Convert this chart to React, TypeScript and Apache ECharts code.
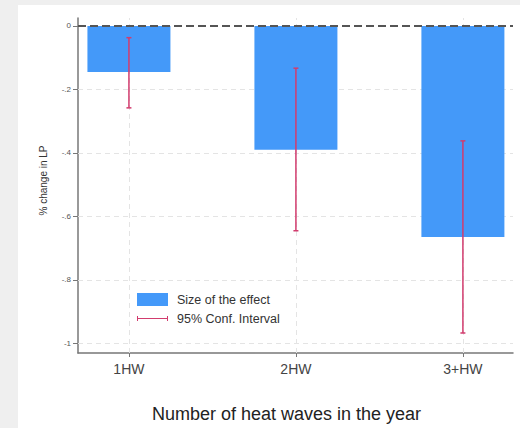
import React, { useEffect, useRef } from "react";
import * as echarts from "echarts";

const categories = ["1HW", "2HW", "3+HW"];
const positions = [1, 2, 3];
const effects = [-0.145, -0.39, -0.665];
const ciUpper = [-0.037, -0.133, -0.362];
const ciLower = [-0.258, -0.645, -0.967];
const yTicks = [0, -0.2, -0.4, -0.6, -0.8, -1];

const BLUE = "#4499f9";
const RED = "#d23c6e";

function fmtY(v: number): string {
  if (v === 0) return "0";
  if (v === -1) return "-1";
  return "-" + String(Math.abs(Number(v.toFixed(2)))).replace(/^0/, "");
}

export default function App() {
  const ref = useRef<HTMLDivElement>(null);
  useEffect(() => {
    if (!ref.current) return;
    const chart = echarts.init(ref.current, null, { renderer: "svg" });
    const font = "Liberation Sans, Arial, sans-serif";
    chart.setOption({
      animation: false,
      backgroundColor: "#ffffff",
      textStyle: { fontFamily: font },
      grid: { left: 60, top: 13, right: 7, bottom: 75 },
      legend: {
        orient: "vertical",
        left: 114,
        top: 283,
        itemWidth: 31,
        itemHeight: 13,
        itemGap: 6,
        selectedMode: false,
        textStyle: { fontSize: 12.5, color: "#333", fontFamily: font, lineHeight: 13, padding: [0, 0, 0, 4] },
        data: [
          { name: "Size of the effect", icon: "rect", itemStyle: { color: BLUE } },
          {
            name: "95% Conf. Interval",
            icon: "path://M0,4H1V9H0Z M1,6H30V7H1Z M30,4H31V9H30Z",
            itemStyle: { color: RED, borderWidth: 0 },
          },
        ],
      },
      xAxis: {
        type: "value",
        min: 0.695,
        max: 3.3,
        name: "Number of heat waves in the year",
        nameLocation: "middle",
        nameGap: 52,
        nameTextStyle: { fontSize: 18, color: "#222", fontFamily: font, padding: [0, 18, 0, 0] },
        splitLine: { show: false },
        axisLine: { show: true, onZero: false, lineStyle: { color: "#777", width: 1.5 } },
        axisTick: { show: true, customValues: positions, length: 4, lineStyle: { color: "#777" } },
        axisLabel: {
          customValues: positions,
          formatter: (v: number) => categories[positions.indexOf(Math.round(v))] ?? "",
          fontSize: 14,
          color: "#444",
          margin: 9,
          fontFamily: font,
        },
      },
      yAxis: {
        type: "value",
        min: -1.03,
        max: 0.025,
        name: "% change in LP",
        nameLocation: "middle",
        nameGap: 30,
        nameRotate: 90,
        nameTextStyle: { fontSize: 10, color: "#333", fontFamily: font, padding: [0, 0, 0, 10] },
        splitLine: { show: false },
        axisLine: { show: true, onZero: false, lineStyle: { color: "#777", width: 1.5 } },
        axisTick: { show: true, customValues: yTicks, length: 5, lineStyle: { color: "#777" } },
        axisLabel: {
          customValues: yTicks,
          formatter: (v: number) => fmtY(v),
          fontSize: 8,
          color: "#555",
          margin: 7,
          fontFamily: font,
        },
      },
      series: [
        {
          name: "grid",
          type: "line",
          data: [],
          z: 1,
          silent: true,
          markLine: {
            z: 1,
            silent: true,
            symbol: "none",
            label: { show: false },
            lineStyle: { color: "#e4e4e4", type: [5, 4], width: 1 },
            data: [
              ...yTicks.filter((v) => v !== 0).map((v) => ({ yAxis: v })),
              ...positions.map((p) => ({ xAxis: p })),
            ],
          },
        },
        {
          name: "Size of the effect",
          type: "bar",
          z: 2,
          barWidth: 83,
          itemStyle: { color: BLUE },
          data: positions.map((p, i) => [p, effects[i]]),
        },
        {
          name: "95% Conf. Interval",
          type: "custom",
          z: 4,
          itemStyle: { color: RED },
          encode: { x: 0, y: [1, 2] },
          data: positions.map((p, i) => [p, ciUpper[i], ciLower[i]]),
          renderItem: (params: any, api: any) => {
            const top = api.coord([api.value(0), api.value(1)]);
            const bot = api.coord([api.value(0), api.value(2)]);
            const st = { stroke: RED, lineWidth: 1.5 };
            const cap = 2.5;
            return {
              type: "group",
              children: [
                { type: "line", shape: { x1: top[0], y1: top[1], x2: bot[0], y2: bot[1] }, style: st },
                { type: "line", shape: { x1: top[0] - cap, y1: top[1], x2: top[0] + cap, y2: top[1] }, style: st },
                { type: "line", shape: { x1: bot[0] - cap, y1: bot[1], x2: bot[0] + cap, y2: bot[1] }, style: st },
              ],
            };
          },
        },
        {
          name: "zero",
          type: "line",
          data: [],
          z: 5,
          silent: true,
          markLine: {
            z: 6,
            silent: true,
            symbol: "none",
            label: { show: false },
            lineStyle: { color: "#555", type: [8, 4], width: 2 },
            data: [{ yAxis: 0 }],
          },
        },
      ],
    });
    return () => chart.dispose();
  }, []);
  return (
    <div style={{ position: "fixed", left: 0, top: 0, width: 520, height: 428, background: "#efefef" }}>
      <div ref={ref} style={{ position: "absolute", left: 18, top: 5, width: 502, height: 423 }} />
    </div>
  );
}
